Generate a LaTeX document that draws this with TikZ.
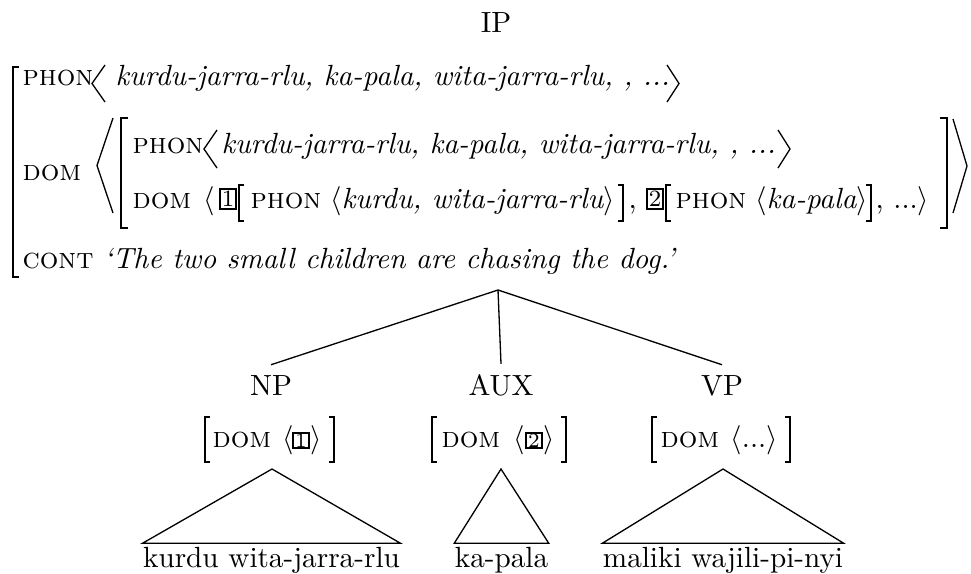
\documentclass[tikz,border=0pt]{standalone}
\newcommand{\myLB}[4]{\draw[brk] (#1+#4,#2) -- (#1,#2) -- (#1,#3) -- (#1+#4,#3);}
\newcommand{\myRB}[4]{\draw[brk] (#1-#4,#2) -- (#1,#2) -- (#1,#3) -- (#1-#4,#3);}
\newcommand{\myLA}[4]{\draw[ang] (#1+#4,#2) -- (#1,{(#2+#3)/2}) -- (#1+#4,#3);}
\newcommand{\myRA}[4]{\draw[ang] (#1-#4,#2) -- (#1,{(#2+#3)/2}) -- (#1-#4,#3);}
\tikzset{
  txt/.style={inner sep=0pt, anchor=base west},
  lbl/.style={inner sep=0pt, anchor=base},
  cat/.style={anchor=base},
  leaf/.style={anchor=base, inner xsep=0pt, inner ysep=1pt},
  brk/.style={line width=0.55pt},
  ang/.style={line width=0.45pt},
  edge/.style={line width=0.45pt},
  tagA/.style={draw, line width=0.7pt, inner sep=0pt, minimum width=5.5pt, minimum height=6.8pt, font=\footnotesize},
  tagT/.style={draw, line width=0.7pt, inner sep=0pt, minimum width=5.6pt, minimum height=5pt, font=\scriptsize}
}
\begin{document}
\begin{tikzpicture}[x=0.3425pt,y=-0.3425pt]
\useasboundingbox (0,0) rectangle (971,573);
\node[lbl] (ip) at (496,32) {IP};
% outer AVM
\myLB{13}{67}{277}{6}
\node[txt] (f1) at (22,85) {\textsc{phon}};
\myLA{92}{65}{102}{13}
\node[txt] (v1) at (115,85) {\textit{kurdu-jarra-rlu, ka-pala, wita-jarra-rlu, , ...}};
\myRA{679}{65}{102}{12}
\node[txt] (f2) at (22,180) {\textsc{dom}};
\myLA{97}{118}{213}{16}
\myLB{121}{118}{228}{7}
\node[txt] (f3) at (132,153) {\textsc{phon}};
\myLA{204}{130}{168}{13}
\node[txt] (v3) at (221,153) {\textit{kurdu-jarra-rlu, ka-pala, wita-jarra-rlu, , ...}};
\myRA{790}{130}{168}{12}
\node[txt] (f4) at (132,208) {\textsc{dom}};
\node[txt] (a4) at (203,208) {$\langle$};
\node[tagA] (t1) at (228,199) {1};
\myLB{239}{185}{221}{5}
\node[txt] (f5) at (250,208) {\textsc{phon}};
\node[txt] (v5) at (330,208) {$\langle$\textit{kurdu, wita-jarra-rlu}$\rangle$};
\myRB{623}{185}{221}{5}
\node[txt] (c5) at (628,208) {,};
\node[tagA] (t2) at (655,199) {2};
\myLB{666}{185}{221}{5}
\node[txt] (f6) at (675,208) {\textsc{phon}};
\node[txt] (v6) at (755,208) {$\langle$\textit{ka-pala}$\rangle$};
\myRB{871}{185}{221}{5}
\node[txt] (e6) at (875,208) {, ...$\rangle$};
\myRB{947}{118}{228}{7}
\myRA{967}{119}{213}{14}
\node[txt] (f7) at (22,268) {\textsc{cont}};
\node[txt] (v7) at (103,268) {\textit{`The two small children are chasing the dog.'}};
% tree
\coordinate (top) at (498,290);
\node[cat] (np) at (271,395) {NP};
\node[cat] (aux) at (501,395) {AUX};
\node[cat] (vp) at (722,395) {VP};
\draw[edge] (top) -- (np.north);
\draw[edge] (top) -- (aux.north);
\draw[edge] (top) -- (vp.north);
% NP avm
\myLB{205}{417}{462}{5}
\node[txt] (d1) at (212,447) {\textsc{dom}};
\node[txt] (la1) at (282,447) {$\langle$};
\node[tagT] (t3) at (301,440.5) {1};
\node[txt] (ra1) at (310,447) {$\rangle$};
\myRB{334}{417}{462}{5}
% AUX avm
\myLB{432}{417}{462}{5}
\node[txt] (d2) at (441,447) {\textsc{dom}};
\node[txt] (la2) at (513,447) {$\langle$};
\node[tagT] (t4) at (534,440.5) {2};
\node[txt] (ra2) at (543,447) {$\rangle$};
\myRB{566}{417}{462}{5}
% VP avm
\myLB{652}{417}{462}{5}
\node[txt] (d3) at (660,447) {\textsc{dom}};
\node[txt] (la3) at (730,447) {$\langle$...$\rangle$};
\myRB{790}{417}{462}{5}
% triangles
\coordinate (tr1) at (272,469);
\coordinate (tr2) at (501,469);
\coordinate (tr3) at (723,469);
\node[leaf] (l1) at (271.5,567) {kurdu wita-jarra-rlu};
\node[leaf] (l2) at (501.5,567) {ka-pala};
\node[leaf] (l3) at (723,567) {maliki wajili-pi-nyi};
\draw[edge] (tr1) -- (l1.north west) -- (l1.north east) -- cycle;
\draw[edge] (tr2) -- (l2.north west) -- (l2.north east) -- cycle;
\draw[edge] (tr3) -- (l3.north west) -- (l3.north east) -- cycle;
\end{tikzpicture}
\end{document}
